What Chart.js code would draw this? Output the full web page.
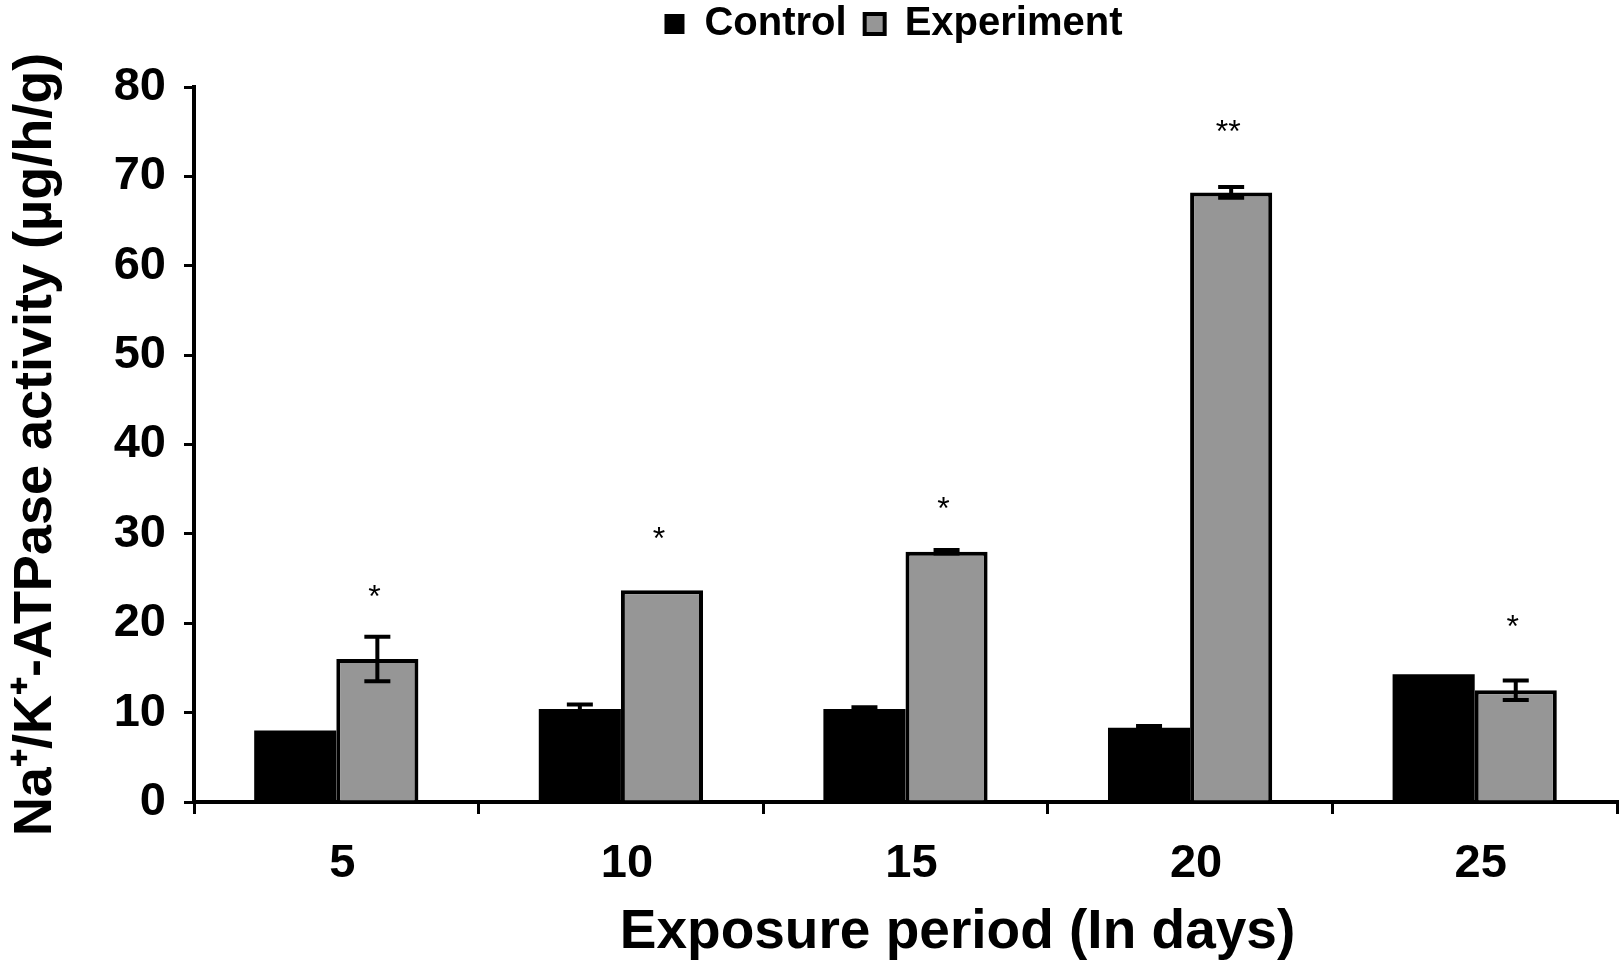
<!DOCTYPE html>
<html>
<head>
<meta charset="utf-8">
<script src="https://cdn.jsdelivr.net/npm/chart.js@4.4.1/dist/chart.umd.min.js"></script>
<style>
  body { margin: 0; background: #fff; }
  #wrap { width: 1623px; height: 972px; }
</style>
</head>
<body>
<div id="wrap"><canvas id="atpaseChart"></canvas></div>
<script>
const days = ['5', '10', '15', '20', '25'];
const controlValues = [8.0, 10.4, 10.4, 8.3, 14.3];
const controlErrors = [0, 0.5, 0.2, 0.2, 0];
const experimentValues = [16.0, 23.7, 28.0, 68.2, 12.5];
const experimentErrors = [2.5, 0, 0.2, 0.6, 1.1];
const significance = ['*', '*', '*', '**', '*'];
const starLevels = [23.4, 29.9, 33.2, 75.4, 20.0];
const yTicks = [0, 10, 20, 30, 40, 50, 60, 70, 80];
const xTitle = 'Exposure period (In days)';

const FONT = '"Liberation Sans", Arial, sans-serif';
Chart.defaults.color = '#000';
Chart.defaults.font.family = FONT;

// error bars, significance marks and the x title
const errorBarPlugin = {
  id: 'errorBars',
  afterLayout(chart) {
    // the legend sits a bit right of centre and close to the top edge
    chart.legend.left += 85;
    chart.legend.right += 85;
    chart.legend.top -= 33;
    chart.legend.bottom -= 33;
  },
  afterDatasetsDraw(chart) {
    const ctx = chart.ctx;
    const yScale = chart.scales.y;
    const errors = [controlErrors, experimentErrors];
    ctx.save();
    ctx.strokeStyle = '#000';
    ctx.lineWidth = 4;
    chart.data.datasets.forEach((ds, i) => {
      chart.getDatasetMeta(i).data.forEach((bar, j) => {
        const err = errors[i][j];
        if (!err) return;
        const top = yScale.getPixelForValue(ds.data[j] + err);
        const bottom = yScale.getPixelForValue(ds.data[j] - err);
        ctx.beginPath();
        ctx.moveTo(bar.x, top);
        ctx.lineTo(bar.x, bottom);
        ctx.moveTo(bar.x - 13, top);
        ctx.lineTo(bar.x + 13, top);
        ctx.moveTo(bar.x - 13, bottom);
        ctx.lineTo(bar.x + 13, bottom);
        ctx.stroke();
      });
    });

    // stars above the experiment bars (glyph sits high, so nudge down)
    ctx.fillStyle = '#000';
    ctx.font = '32px ' + FONT;
    ctx.textAlign = 'center';
    ctx.textBaseline = 'middle';
    chart.getDatasetMeta(1).data.forEach((bar, j) => {
      ctx.fillText(significance[j], bar.x - 3, yScale.getPixelForValue(starLevels[j]) + 5);
    });

    // x axis title, a little right of the plot centre
    const area = chart.chartArea;
    ctx.font = 'bold 55px ' + FONT;
    ctx.fillText(xTitle, (area.left + area.right) / 2 + 52, 933);
    ctx.restore();
  }
};

const ctx = document.getElementById('atpaseChart').getContext('2d');
const chart = new Chart(ctx, {
  type: 'bar',
  data: {
    labels: days,
    datasets: [
      {
        label: 'Control',
        data: controlValues,
        backgroundColor: '#000',
        borderColor: '#000',
        borderWidth: 0
      },
      {
        label: 'Experiment',
        data: experimentValues,
        backgroundColor: '#969696',
        borderColor: '#000',
        borderWidth: 4
      }
    ]
  },
  plugins: [errorBarPlugin],
  options: {
    responsive: true,
    maintainAspectRatio: false,
    animation: false,
    layout: { padding: { left: 0, right: 6, top: 19, bottom: 0 } },
    datasets: {
      bar: { categoryPercentage: 0.577, barPercentage: 1.0 }
    },
    plugins: {
      tooltip: { enabled: false },
      legend: {
        position: 'top',
        labels: {
          font: { size: 40, weight: 'bold', family: FONT },
          boxWidth: 20,
          boxHeight: 20,
          padding: 18,
          color: '#000'
        }
      }
    },
    scales: {
      x: {
        grid: {
          offset: true,
          drawOnChartArea: false,
          color: '#000',
          lineWidth: 3,
          tickLength: 12
        },
        border: { color: '#000', width: 4 },
        ticks: {
          font: { size: 47, weight: 'bold', family: FONT },
          padding: 22,
          labelOffset: 6,
          maxRotation: 0
        },
        title: { display: false },
        afterFit(scale) { scale.height = 170; }
      },
      y: {
        min: 0,
        max: 80,
        afterBuildTicks(scale) { scale.ticks = yTicks.map(v => ({ value: v })); },
        grid: {
          drawOnChartArea: false,
          color: '#000',
          lineWidth: 3,
          tickLength: 10
        },
        border: { color: '#000', width: 4 },
        ticks: {
          font: { size: 47, weight: 'bold', family: FONT },
          padding: 18
        },
        title: {
          display: true,
          text: 'Na\u207A/K\u207A-ATPase activity (\u00B5g/h/g)',
          font: { size: 54, weight: 'bold', family: FONT },
          padding: { top: 4, bottom: 0 }
        },
        afterFit(scale) { scale.width = 194; }
      }
    }
  }
});
</script>
</body>
</html>
